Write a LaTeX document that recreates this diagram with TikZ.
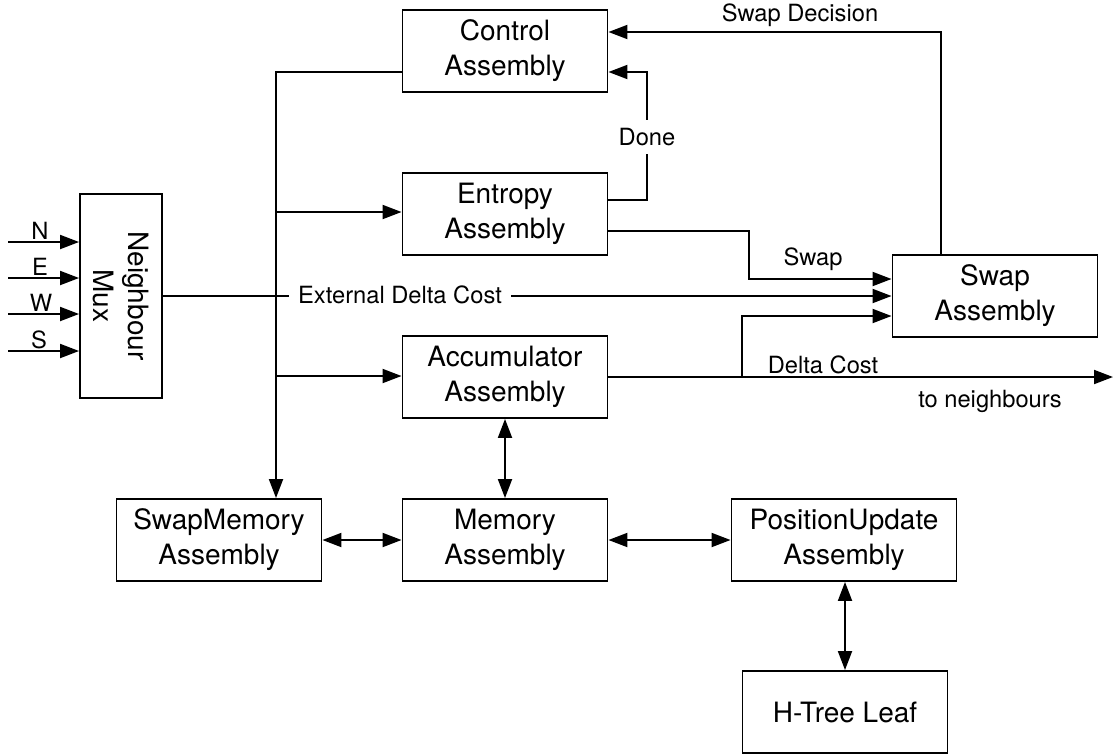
\documentclass[tikz,border=0pt]{standalone}
\usepackage{fontspec}
\setmainfont{TeX Gyre Heros}
\usetikzlibrary{arrows.meta}
\begin{document}
\begin{tikzpicture}[x=1pt,y=-1pt,
  line width=1.9pt,
  blk/.style={draw, line width=1.9pt, minimum width=205pt, minimum height=82pt,
    inner sep=0pt, align=center, font=\fontsize{28}{35}\selectfont},
  lbl/.style={inner sep=0pt, font=\fontsize{23.7}{28}\selectfont},
  wlbl/.style={lbl, fill=white, inner sep=9pt},
  arr/.style={-{Triangle[length=19pt,width=14pt]}},
  darr/.style={{Triangle[length=19pt,width=14pt]}-{Triangle[length=19pt,width=14pt]}}]
\useasboundingbox (0,0) rectangle (1113,755);

% blocks
\node[blk] (ctrl) at (505,51) {Control\\Assembly};
\node[blk] (ent) at (505,214) {Entropy\\Assembly};
\node[blk] (acc) at (505,377) {Accumulator\\Assembly};
\node[blk] (mem) at (505,540) {Memory\\Assembly};
\node[blk] (smem) at (219,540) {SwapMemory\\Assembly};
\node[blk, minimum width=225pt] (pos) at (844,540) {PositionUpdate\\Assembly};
\node[blk] (htree) at (845,712) {H-Tree Leaf};
\node[blk] (swap) at (995,296) {Swap\\Assembly};
\node[draw, line width=1.9pt, minimum width=82pt, minimum height=204pt, inner sep=0pt] (mux) at (121,296) {};
\node[rotate=-90, align=center, inner sep=0pt, font=\fontsize{28}{35}\selectfont] (muxtxt) at (mux.center) {Neighbour\\Mux};

% inputs to mux
\coordinate (inN) at (8,242);
\coordinate (inE) at (8,278);
\coordinate (inW) at (8,314);
\coordinate (inS) at (8,351);
\draw[arr] (inN) -- (inN -| mux.west);
\draw[arr] (inE) -- (inE -| mux.west);
\draw[arr] (inW) -- (inW -| mux.west);
\draw[arr] (inS) -- (inS -| mux.west);
\node[lbl, anchor=base] (lN) at (40,239) {N};
\node[lbl, anchor=base] (lE) at (40,275) {E};
\node[lbl, anchor=base] (lW) at (41,311) {W};
\node[lbl, anchor=base] (lS) at (39,348) {S};

% bus from control
\coordinate (busTop) at (276,72);
\coordinate (busEnt) at (276,212);
\coordinate (busAcc) at (276,376);
\draw (ctrl.west |- busTop) -- (busTop) -- (busTop |- smem.north) [arr];
\draw[arr] (busEnt) -- (busEnt -| ent.west);
\draw[arr] (busAcc) -- (busAcc -| acc.west);

% external delta cost
\draw[arr] (mux.east) -- (mux.east -| swap.west);
\node[wlbl] (edc) at (400,295) {External Delta Cost};

% done
\coordinate (doneA) at (647,200);
\coordinate (doneB) at (647,72);
\draw[arr] (doneA -| ent.east) -- (doneA) -- (doneB) -- (doneB -| ctrl.east);
\node[lbl, fill=white, inner xsep=2pt, inner ysep=8pt] (done) at (647,137) {Done};

% swap
\coordinate (swA) at (749,231);
\coordinate (swB) at (749,279);
\draw[arr] (swA -| ent.east) -- (swA) -- (swB) -- (swB -| swap.west);
\node[lbl] (swl) at (813,259) {Swap};

% swap decision
\coordinate (sdA) at (941,32);
\draw[arr] (sdA |- swap.north) -- (sdA) -- (sdA -| ctrl.east);
\node[lbl] (sdl) at (800,15) {Swap Decision};

% delta cost
\coordinate (dcEnd) at (1113,377);
\coordinate (dcA) at (742,377);
\coordinate (dcB) at (742,316);
\draw[arr] (acc.east) -- (dcEnd);
\draw[arr] (dcA) -- (dcB) -- (dcB -| swap.west);
\node[lbl] (dcl) at (823,365) {Delta Cost};
\node[lbl] (tnl) at (990,401) {to neighbours};

% memory links
\draw[darr] (acc.south) -- (mem.north);
\draw[darr] (smem.east) -- (mem.west);
\draw[darr] (mem.east) -- (pos.west);
\draw[darr] (htree.north |- pos.south) -- (htree.north);
\end{tikzpicture}
\end{document}
